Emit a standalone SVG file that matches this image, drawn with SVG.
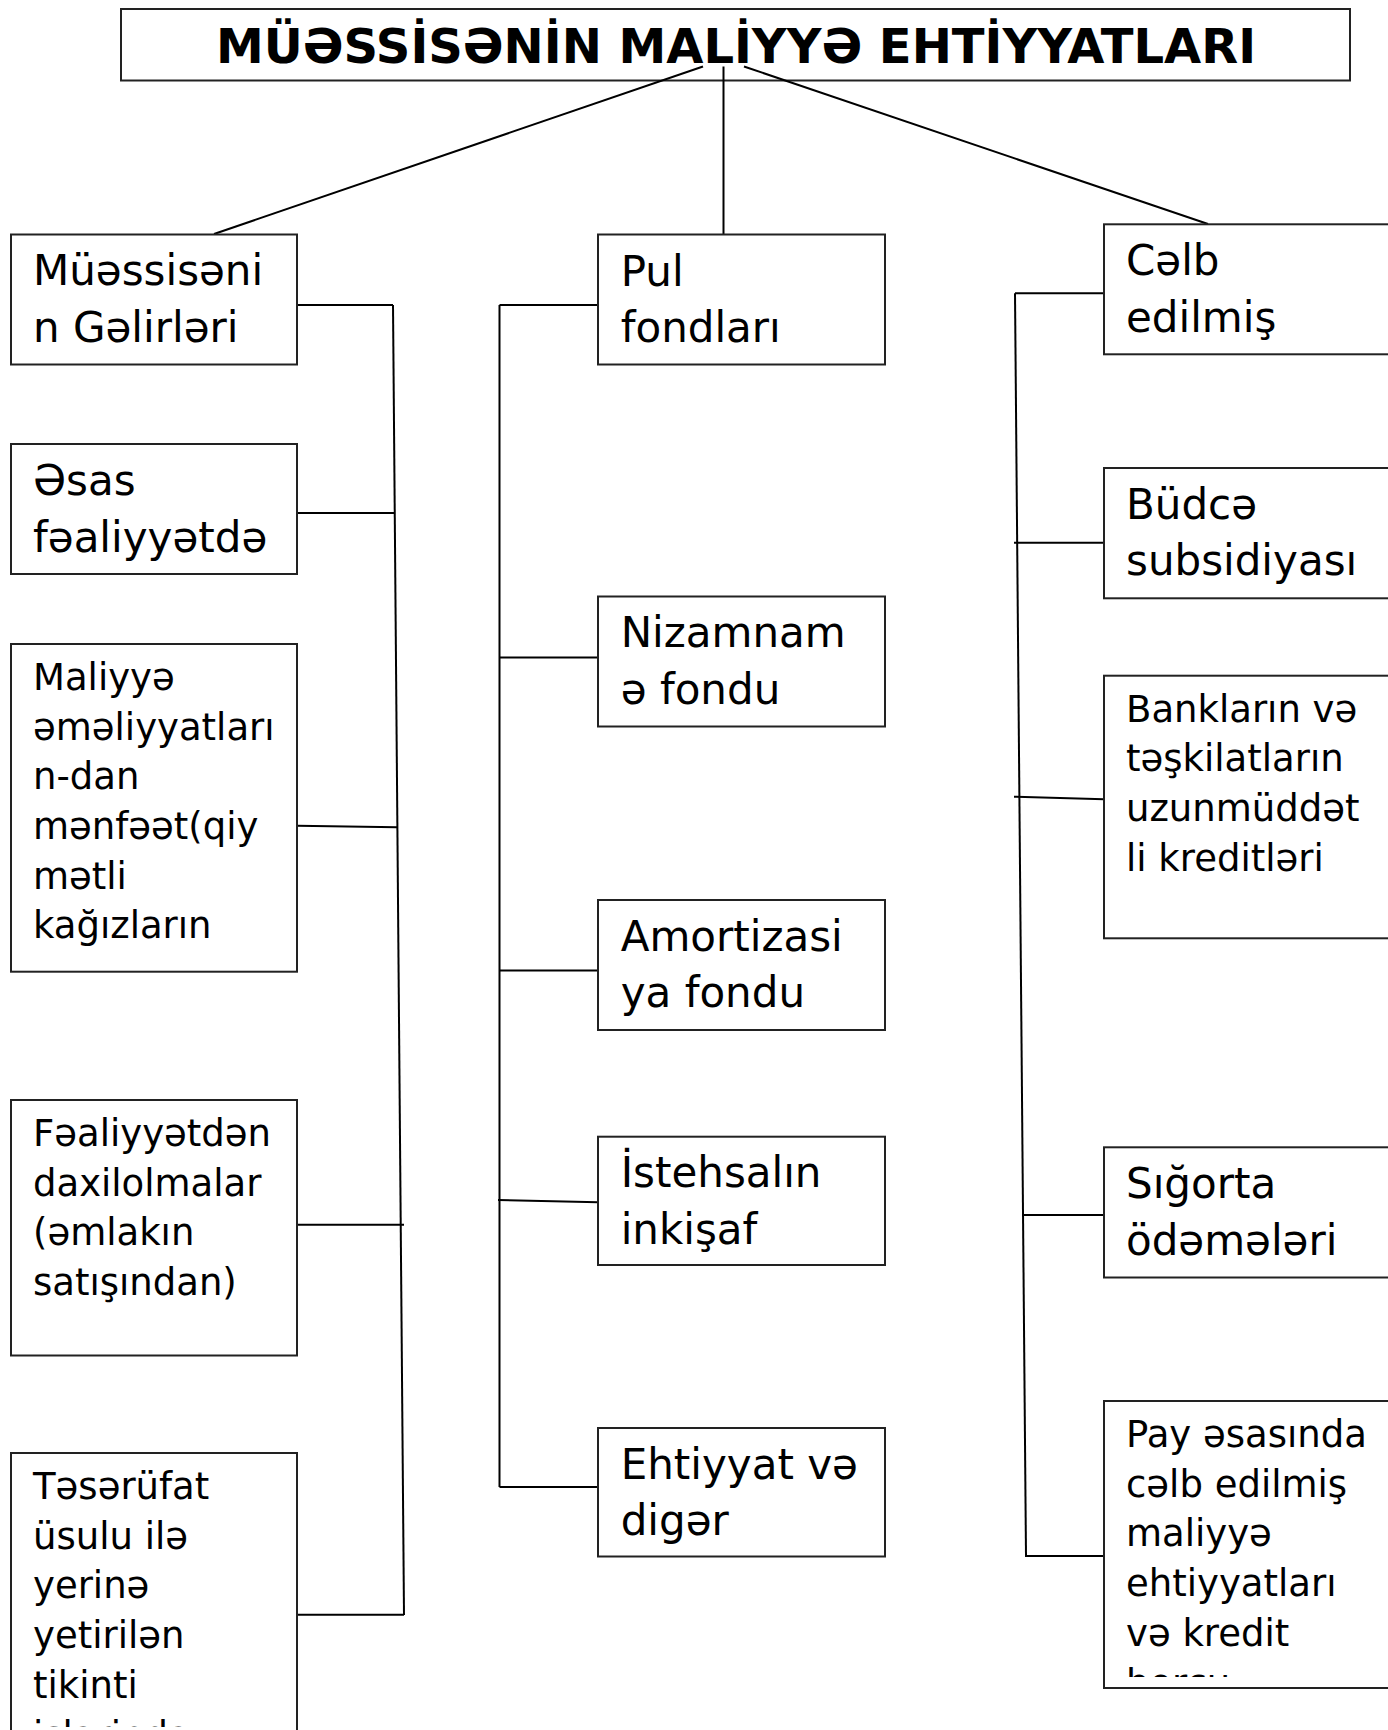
<svg xmlns="http://www.w3.org/2000/svg" width="1388" height="1730" viewBox="0 0 1388 1730">
<style>
.box{fill:#fff;stroke:#222;stroke-width:2}
.t42{font-family:"DejaVu Sans",sans-serif;font-size:42px;fill:#000}
.t37{font-family:"DejaVu Sans",sans-serif;font-size:37px;fill:#000}
.title{font-family:"DejaVu Sans",sans-serif;font-size:48px;font-weight:bold;fill:#000}
.ln{stroke:#000;stroke-width:2;fill:none}
</style>
<defs>
<clipPath id="clip3"><rect x="11" y="644" width="286" height="318"/></clipPath>
<clipPath id="clip5"><rect x="11" y="1453" width="286" height="274"/></clipPath>
<clipPath id="clipPay"><rect x="1104" y="1401" width="286" height="276"/></clipPath>
</defs>
<rect width="1388" height="1730" fill="#fff"/>

<g id="title">
<rect class="box" x="121" y="9" width="1229" height="71.5"/>
<text class="title" x="736" y="63" text-anchor="middle">MÜƏSSİSƏNİN MALİYYƏ EHTİYYATLARI</text>
</g>

<g id="connectors">
<line class="ln" x1="703" y1="66.5" x2="214" y2="234"/>
<line class="ln" x1="723.5" y1="66.5" x2="723.5" y2="234"/>
<line class="ln" x1="744" y1="66.5" x2="1208" y2="224"/>
<line class="ln" x1="393" y1="305" x2="404" y2="1615"/>
<line class="ln" x1="297" y1="305" x2="393" y2="305"/>
<line class="ln" x1="297" y1="513" x2="395" y2="513"/>
<line class="ln" x1="297" y1="825.7" x2="397" y2="827.3"/>
<line class="ln" x1="297" y1="1224.7" x2="404" y2="1224.7"/>
<line class="ln" x1="297" y1="1614.8" x2="404" y2="1614.8"/>
<line class="ln" x1="499.5" y1="305" x2="499.5" y2="1487"/>
<line class="ln" x1="499.5" y1="305" x2="598" y2="305"/>
<line class="ln" x1="499.5" y1="657.5" x2="598" y2="657.5"/>
<line class="ln" x1="499.5" y1="970.6" x2="598" y2="970.6"/>
<line class="ln" x1="498" y1="1200" x2="598" y2="1202.3"/>
<line class="ln" x1="499.5" y1="1487" x2="598" y2="1487"/>
<line class="ln" x1="1015" y1="293.3" x2="1026" y2="1556"/>
<line class="ln" x1="1015" y1="293.3" x2="1104" y2="293.3"/>
<line class="ln" x1="1014" y1="542.7" x2="1104" y2="542.7"/>
<line class="ln" x1="1014" y1="796.7" x2="1104" y2="799.3"/>
<line class="ln" x1="1024" y1="1215" x2="1104" y2="1215"/>
<line class="ln" x1="1025" y1="1556" x2="1104" y2="1556"/>
</g>

<g id="n-gelirler">
<rect class="box" x="11" y="234.5" width="286" height="130"/>
<text class="t42" x="33" y="285">Müəssisəni</text>
<text class="t42" x="33" y="341.7">n Gəlirləri</text>
</g>
<g id="n-esas">
<rect class="box" x="11" y="444" width="286" height="130"/>
<text class="t42" x="33" y="495">Əsas</text>
<text class="t42" x="33" y="551.7">fəaliyyətdə</text>
</g>
<g id="n-maliyye">
<rect class="box" x="11" y="644" width="286" height="327.7"/>
<g clip-path="url(#clip3)">
<text class="t37" x="33" y="690">Maliyyə</text>
<text class="t37" x="33" y="739.7">əməliyyatları</text>
<text class="t37" x="33" y="789.4">n-dan</text>
<text class="t37" x="33" y="839">mənfəət(qiy</text>
<text class="t37" x="33" y="888.7">mətli</text>
<text class="t37" x="33" y="938.4">kağızların</text>
</g>
</g>
<g id="n-daxilolmalar">
<rect class="box" x="11" y="1100" width="286" height="255.5"/>
<text class="t37" x="33" y="1146">Fəaliyyətdən</text>
<text class="t37" x="33" y="1195.7">daxilolmalar</text>
<text class="t37" x="33" y="1245.4">(əmlakın</text>
<text class="t37" x="33" y="1295">satışından)</text>
</g>
<g id="n-teserrufat">
<rect class="box" x="11" y="1453" width="286" height="292"/>
<g clip-path="url(#clip5)">
<text class="t37" x="33" y="1499">Təsərüfat</text>
<text class="t37" x="33" y="1548.7">üsulu ilə</text>
<text class="t37" x="33" y="1598.4">yerinə</text>
<text class="t37" x="33" y="1648">yetirilən</text>
<text class="t37" x="33" y="1697.8">tikinti</text>
<text class="t37" x="33" y="1747.5">işlərində</text>
</g>
</g>

<g id="n-pul">
<rect class="box" x="598" y="234.5" width="287" height="130"/>
<text class="t42" x="620.7" y="286">Pul</text>
<text class="t42" x="620.7" y="341.7">fondları</text>
</g>
<g id="n-nizamname">
<rect class="box" x="598" y="596.5" width="287" height="130"/>
<text class="t42" x="620.7" y="647.2">Nizamnam</text>
<text class="t42" x="620.7" y="703.9">ə fondu</text>
</g>
<g id="n-amortizasiya">
<rect class="box" x="598" y="900" width="287" height="130"/>
<text class="t42" x="620.7" y="950.7">Amortizasi</text>
<text class="t42" x="620.7" y="1007.4">ya fondu</text>
</g>
<g id="n-istehsal">
<rect class="box" x="598" y="1136.7" width="287" height="128.3"/>
<text class="t42" x="620.7" y="1187.4">İstehsalın</text>
<text class="t42" x="620.7" y="1244">inkişaf</text>
</g>
<g id="n-ehtiyyat">
<rect class="box" x="598" y="1428" width="287" height="128.5"/>
<text class="t42" x="620.7" y="1478.7">Ehtiyyat və</text>
<text class="t42" x="620.7" y="1535.4">digər</text>
</g>

<g id="n-celb">
<rect class="box" x="1104" y="224.3" width="286" height="130"/>
<text class="t42" x="1126" y="275">Cəlb</text>
<text class="t42" x="1126" y="331.7">edilmiş</text>
</g>
<g id="n-budce">
<rect class="box" x="1104" y="468" width="286" height="130.3"/>
<text class="t42" x="1126" y="518.7">Büdcə</text>
<text class="t42" x="1126" y="575.4">subsidiyası</text>
</g>
<g id="n-banklar">
<rect class="box" x="1104" y="675.7" width="286" height="262.6"/>
<text class="t37" x="1126" y="721.7">Bankların və</text>
<text class="t37" x="1126" y="771.4">təşkilatların</text>
<text class="t37" x="1126" y="821">uzunmüddət</text>
<text class="t37" x="1126" y="870.8">li kreditləri</text>
</g>
<g id="n-sigorta">
<rect class="box" x="1104" y="1147.3" width="286" height="130.2"/>
<text class="t42" x="1126" y="1198">Sığorta</text>
<text class="t42" x="1126" y="1254.7">ödəmələri</text>
</g>
<g id="n-pay">
<rect class="box" x="1104" y="1401" width="286" height="287"/>
<g clip-path="url(#clipPay)">
<text class="t37" x="1126" y="1447">Pay əsasında</text>
<text class="t37" x="1126" y="1496.7">cəlb edilmiş</text>
<text class="t37" x="1126" y="1546.4">maliyyə</text>
<text class="t37" x="1126" y="1596">ehtiyyatları</text>
<text class="t37" x="1126" y="1645.8">və kredit</text>
<text class="t37" x="1126" y="1695.5">borcu</text>
</g>
</g>
</svg>
